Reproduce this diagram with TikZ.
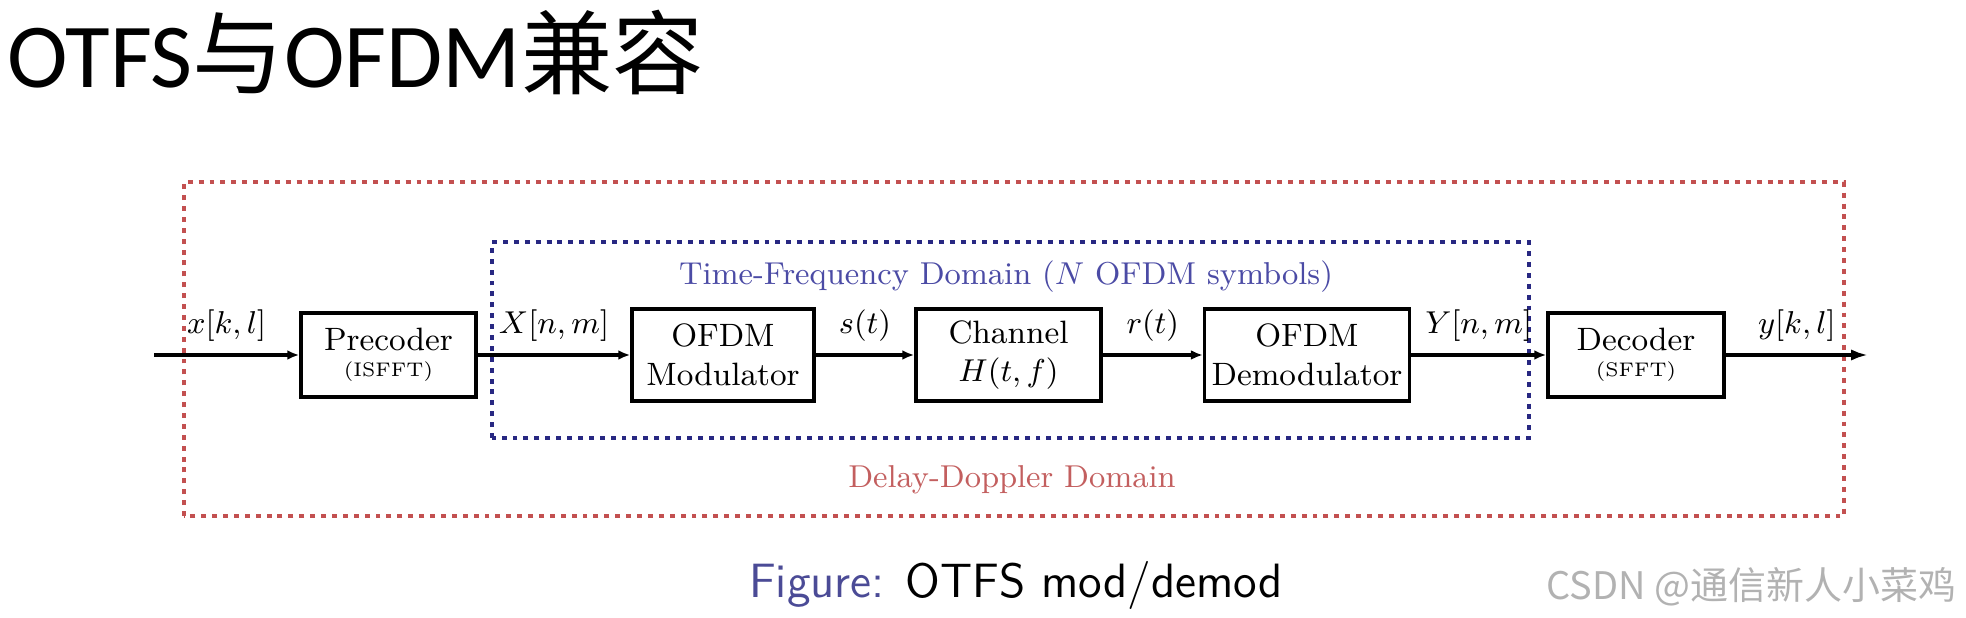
\documentclass[tikz,border=0pt]{standalone}
\usepackage{fontspec}
\newfontfamily\titlefont{Carlito}
\newfontfamily\cjk{Noto Sans CJK SC}
\usetikzlibrary{arrows.meta, positioning}
\definecolor{ddred}{RGB}{195,80,80}
\definecolor{tfblue}{RGB}{40,40,130}
\definecolor{ddtext}{RGB}{195,95,95}
\definecolor{tftext}{RGB}{75,75,165}
\definecolor{figblue}{RGB}{75,75,150}

\begin{document}
\begin{tikzpicture}[
    blk/.style={draw, line width=1pt, align=center, minimum height=0.92cm, inner sep=2pt, font=\fontsize{9.2}{11}\selectfont},
    sig/.style={line width=1pt, -{Latex[length=3.4pt,width=2.8pt]}},
    lbl/.style={font=\fontsize{9.4}{11}\selectfont},
    dom/.style={font=\fontsize{9}{11}\selectfont},
    ddbox/.style={draw=ddred, line width=0.9pt, dash pattern=on 1.4pt off 1.7pt},
    tfbox/.style={draw=tfblue, line width=0.9pt, dash pattern=on 1.4pt off 1.7pt}
]
    \useasboundingbox (0,0) rectangle (19.66,6.18);

    % Titolo
    \node[anchor=base west, inner sep=0] (title) at (0.07,5.30) {\fontsize{26}{30}\selectfont\titlefont OTFS{\cjk 与}OFDM{\cjk 兼容}};

    % Domini
    \draw[ddbox] (1.84,1.02) rectangle (18.44,4.36);
    \draw[tfbox] (4.92,1.80) rectangle (15.29,3.76);
    \node[dom, text=tftext, anchor=base] (tf) at (10.06,3.33) {Time-Frequency Domain ($N$ OFDM symbols)};
    \node[dom, text=ddtext, anchor=base] (dd) at (10.12,1.30) {Delay-Doppler Domain};

    % Blocchi
    \node[blk, minimum width=1.75cm, minimum height=0.84cm] (pre) at (3.885,2.63) {Precoder\\[-3.5pt]{\fontsize{5.6}{6}\selectfont (ISFFT)}};
    \node[blk, minimum width=1.82cm] (mod) at (7.23,2.63) {OFDM\\Modulator};
    \node[blk, minimum width=1.85cm] (chan) at (10.085,2.63) {Channel\\$H(t,f)$};
    \node[blk, minimum width=1.96cm] (demod) at (13.07,2.63) {OFDM\\Demodulator};
    \node[blk, minimum width=1.76cm, minimum height=0.84cm] (dec) at (16.36,2.63) {Decoder\\[-3.5pt]{\fontsize{5.6}{6}\selectfont (SFFT)}};

    % Segnali
    \coordinate (in) at (1.54,2.63);
    \coordinate (out) at (18.68,2.63);
    \draw[sig] (in) -- node[lbl, above] {$x[k,l]$} (pre);
    \draw[sig] (pre) -- node[lbl, above] {$X[n,m]$} (mod);
    \draw[sig] (mod) -- node[lbl, above] {$s(t)$} (chan);
    \draw[sig] (chan) -- node[lbl, above] {$r(t)$} (demod);
    \draw[sig] (demod) -- node[lbl, above] {$Y[n,m]$} (dec);
    \draw[line width=1pt, -{Latex[length=4.8pt,width=3.2pt]}] (dec) -- node[lbl, above] {$y[k,l]$} (out);

    % Didascalia
    \node[anchor=base, font=\sffamily\fontsize{13.7}{16}\selectfont] (cap) at (10.16,0.20) {\textcolor{figblue}{Figure:} OTFS mod/demod};
    \node[anchor=base west, inner sep=0, text=black!30, font=\cjk\fontsize{10.8}{12}\selectfont] (wm) at (15.46,0.18) {CSDN @通信新人小菜鸡};
\end{tikzpicture}
\end{document}
